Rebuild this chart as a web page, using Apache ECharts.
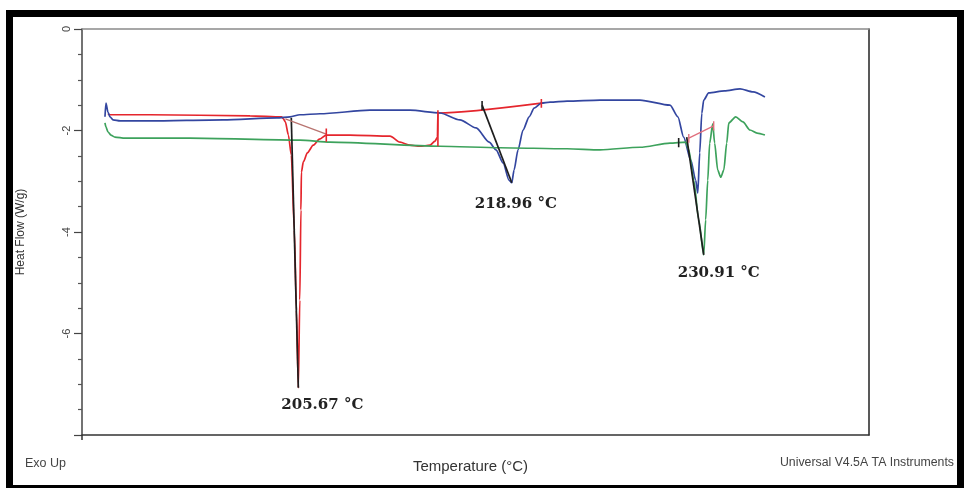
<!DOCTYPE html>
<html>
<head>
<meta charset="utf-8">
<script src="https://cdn.jsdelivr.net/npm/echarts@6/dist/echarts.min.js"></script>
<style>
  html, body { margin: 0; padding: 0; background: #fff; }
  #chart { width: 966px; height: 488px; }
</style>
</head>
<body>
<div id="chart"></div>
<script>
// Temperature (°C) / heat flow (W/g) pairs for each DSC run
const redCurve = [
  [193.82, -1.67], [193.94, -1.69], [196.43, -1.69], [202.66, -1.71], [204.62, -1.73],
  [204.74, -1.77], [204.86, -1.83], [205.05, -2.09], [205.23, -2.48], [205.42, -3.96],
  [205.55, -5.54], [205.67, -7.07], [205.76, -5.34], [205.83, -3.57], [205.86, -2.82],
  [205.98, -2.62], [206.23, -2.44], [206.60, -2.29], [206.98, -2.17], [207.41, -2.09],
  [208.89, -2.09], [211.38, -2.11], [212.00, -2.23], [212.62, -2.29], [213.24, -2.31],
  [213.87, -2.29], [214.18, -2.21], [214.33, -2.13], [214.36, -1.655], [220.80, -1.46]
];

const blueCurve = [
  [193.63, -1.73], [193.69, -1.46], [193.82, -1.64], [193.94, -1.73], [194.13, -1.79],
  [194.57, -1.81], [196.43, -1.81], [200.98, -1.79], [204.34, -1.75], [205.15, -1.73],
  [205.77, -1.69], [207.02, -1.67], [210.13, -1.60], [212.62, -1.60], [214.49, -1.655],
  [215.73, -1.79], [216.74, -1.95], [217.55, -2.23], [217.98, -2.38], [218.42, -2.64],
  [218.79, -2.98], [218.96, -3.03], [219.10, -2.78], [219.35, -2.38], [219.66, -1.99],
  [220.04, -1.73], [220.35, -1.56], [220.80, -1.46], [221.34, -1.44], [222.40, -1.42],
  [224.45, -1.40], [226.94, -1.40], [228.81, -1.50], [229.30, -1.73], [229.66, -2.13],
  [230.10, -2.58], [230.41, -2.98], [230.54, -3.23], [230.66, -2.44], [230.79, -1.66],
  [230.91, -1.40], [231.22, -1.26], [232.20, -1.22], [233.17, -1.18], [233.98, -1.24],
  [234.72, -1.34]
];

const greenCurve = [
  [193.63, -1.85], [193.69, -1.93], [193.82, -2.03], [194.00, -2.09], [194.25, -2.13],
  [194.88, -2.15], [198.92, -2.15], [205.77, -2.19], [207.64, -2.23], [214.49, -2.31],
  [218.22, -2.34], [222.40, -2.36], [224.45, -2.38], [226.94, -2.33], [228.81, -2.25],
  [229.79, -2.23], [229.98, -2.38], [230.29, -2.98], [230.60, -3.76], [230.91, -4.45],
  [231.03, -3.76], [231.16, -2.98], [231.28, -2.25], [231.47, -1.87], [231.59, -2.25],
  [231.78, -2.78], [231.97, -2.92], [232.16, -2.78], [232.34, -2.25], [232.47, -1.85],
  [232.90, -1.73], [233.35, -1.83], [233.79, -1.99], [234.23, -2.05], [234.72, -2.09]
];

// Labelled peak temperatures (°C): red, blue, green runs
const peakTemps = [205.67, 218.96, 230.91];

// Peak analysis construction lines
const tangentLines = [
  [[205.23, -1.75], [205.67, -7.07]],
  [[217.11, -1.50], [218.96, -3.03]],
  [[229.85, -2.13], [230.91, -4.45]]
];
const baselineRedPeak = [[204.86, -1.77], [207.41, -2.07]];
const baselineGreenPeak = [[229.98, -2.15], [231.53, -1.91]];
const limitMarksRed = [
  [[207.41, -1.96], [207.41, -2.22]],
  [[214.36, -1.60], [214.36, -2.31]],
  [[220.80, -1.38], [220.80, -1.55]]
];
const limitMarksDark = [
  [[217.11, -1.42], [217.11, -1.60]],
  [[229.35, -2.15], [229.35, -2.33]]
];
const limitMarksPink = [
  [[229.98, -2.07], [229.98, -2.24]],
  [[231.53, -1.82], [231.53, -2.00]]
];

// Axis settings
const tempMin = 192.2, tempMax = 241.2;
const flowMin = -8, flowMax = 0, flowStep = 2;

const RED = '#e5262d', BLUE = '#3346a0', GREEN = '#3da25c', DARK = '#1e1e1e';

// the curve point sitting at a labelled peak temperature
function peakAt(curve, temp) {
  return curve.find(p => p[0] === temp);
}

function curveSeries(name, data, color, peakTemp, labelOffset) {
  const peak = peakAt(data, peakTemp);
  return {
    name, type: 'line', data, showSymbol: false, smooth: 0.25, smoothMonotone: 'x',
    lineStyle: { color, width: 1.7 }, z: 3,
    markPoint: {
      symbol: 'circle', symbolSize: 0, silent: true,
      data: [{ coord: peak, value: peak[0] }],
      label: {
        show: true, position: 'inside', offset: labelOffset,
        formatter: p => p.value.toFixed(2) + ' °C',
        fontFamily: 'DejaVu Serif', fontWeight: 'bold', fontSize: 15, color: '#222'
      }
    }
  };
}

function segmentSeries(segments, color, width) {
  return segments.map(seg => ({
    type: 'line', data: seg, showSymbol: false, silent: true,
    lineStyle: { color, width }, z: 4
  }));
}

const series = [
  curveSeries('red', redCurve, RED, peakTemps[0], [24, 17]),
  curveSeries('blue', blueCurve, BLUE, peakTemps[1], [4, 21]),
  curveSeries('green', greenCurve, GREEN, peakTemps[2], [15, 18]),
  ...segmentSeries(tangentLines, DARK, 1.7),
  ...segmentSeries([baselineRedPeak], '#b87470', 1.3),
  ...segmentSeries([baselineGreenPeak], '#e0707e', 1.3),
  ...segmentSeries(limitMarksRed, RED, 1.6),
  ...segmentSeries(limitMarksDark, DARK, 1.6),
  ...segmentSeries(limitMarksPink, '#e0707e', 1.4)
];

const chart = echarts.init(document.getElementById('chart'), null, { renderer: 'canvas' });
chart.setOption({
  backgroundColor: '#fff',
  animation: false,
  grid: { left: 82, right: 97, top: 29, bottom: 53, containLabel: false },
  xAxis: [{
    type: 'value', min: tempMin, max: tempMax, position: 'bottom',
    name: 'Temperature (°C)', nameLocation: 'middle', nameGap: 24,
    nameTextStyle: { fontFamily: 'Liberation Sans', fontSize: 15, color: '#333', padding: [0, 10, 0, 0] },
    axisLine: { show: true, onZero: false, lineStyle: { color: '#333', width: 1.5 } },
    axisTick: { show: true, customValues: [tempMin], length: 5, lineStyle: { color: '#333', width: 1.5 } },
    axisLabel: { show: false },
    splitLine: { show: false }
  }, {
    type: 'value', min: tempMin, max: tempMax, position: 'top',
    axisLine: { show: true, onZero: false, lineStyle: { color: '#8a8a8a', width: 1.5 } },
    axisTick: { show: false }, axisLabel: { show: false }, splitLine: { show: false }
  }],
  yAxis: [{
    type: 'value', min: flowMin, max: flowMax, interval: flowStep, position: 'left',
    name: 'Heat Flow (W/g)', nameLocation: 'middle', nameGap: 55, nameRotate: 90,
    nameTextStyle: { fontFamily: 'Liberation Sans', fontSize: 12, color: '#333' },
    axisLine: { show: true, onZero: false, lineStyle: { color: '#444', width: 1.5 } },
    axisTick: { show: true, length: 8, lineStyle: { color: '#444', width: 1.2 } },
    minorTick: { show: true, splitNumber: 4, length: 4, lineStyle: { color: '#555', width: 1.2 } },
    axisLabel: {
      rotate: 90, margin: 10, fontFamily: 'Liberation Sans', fontSize: 11, color: '#444',
      formatter: v => (v === flowMin ? '' : String(v))
    },
    splitLine: { show: false }
  }, {
    type: 'value', min: flowMin, max: flowMax, position: 'right',
    axisLine: { show: true, onZero: false, lineStyle: { color: '#222', width: 1.5 } },
    axisTick: { show: false }, axisLabel: { show: false }, splitLine: { show: false }
  }],
  series,
  graphic: [
    {
      type: 'rect', silent: true, z: 100,
      shape: { x: 9.5, y: 13.5, width: 951, height: 475 },
      style: { fill: 'none', stroke: '#000', lineWidth: 7 }
    },
    {
      type: 'text', left: 25, top: 457, silent: true,
      style: { text: 'Exo Up', font: '12.5px "Liberation Sans"', fill: '#444' }
    },
    {
      type: 'text', right: 12, top: 457, silent: true,
      style: { text: 'Universal V4.5A TA Instruments', font: '12.3px "Liberation Sans"', fill: '#444' }
    }
  ]
});
</script>
</body>
</html>
